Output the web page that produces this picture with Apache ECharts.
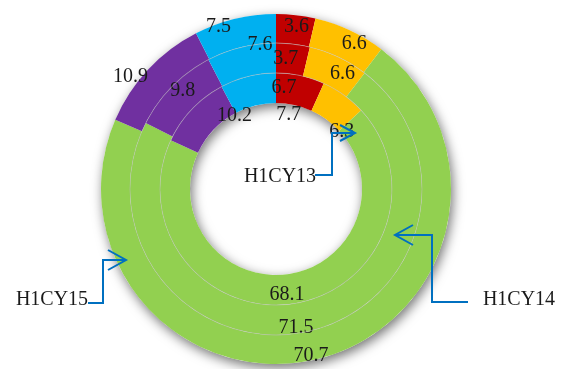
<!DOCTYPE html>
<html>
<head>
<meta charset="utf-8">
<script src="https://cdn.jsdelivr.net/npm/echarts@6/dist/echarts.min.js"></script>
<style>
  html, body { margin: 0; padding: 0; background: #ffffff; }
  #chart { width: 563px; height: 369px; }
</style>
</head>
<body>
<div id="chart"></div>
<script>
// Half-year shares, one ring per period (inner = oldest)
const periods = ['H1CY13', 'H1CY14', 'H1CY15'];
const segments = ['Segment A', 'Segment B', 'Segment C', 'Segment D', 'Segment E'];
const h1cy13 = [6.7, 6.3, 68.1, 10.2, 7.7];
const h1cy14 = [3.7, 6.6, 71.5, 9.8, 7.6];
const h1cy15 = [3.6, 6.6, 70.7, 10.9, 7.5];
const ringValues = [h1cy13, h1cy14, h1cy15];

// Styling and layout
const palette = ['#C00000', '#FFC000', '#92D050', '#7030A0', '#00B0F0'];
const center = [276, 189];
const ringRadii = [[86, 116], [116, 146], [146, 175]];
const textFont = '"Liberation Serif", "Times New Roman", serif';
const textColor = '#1a1a1a';
// Hand-placed value label nudges (dx, dy) per ring and segment
const labelNudges = [
  [[-14, 0], [5, 27], [-5, 3], [34, -2], [38, 27]],
  [[-6, 3], [9, 6], [-10, 8], [2, -4], [16, -14]],
  [[2, 0], [9, 3], [-7, 9], [-26, -1], [-19, -3]]
];
// Callout arrows: label position, connector path, arrowhead
const callouts = [
  { text: periods[0], at: [280, 177], path: [[315, 175], [332, 175], [332, 133], [355, 133]], head: [[340, 125], [355, 133], [340, 141]] },
  { text: periods[1], at: [519, 300], path: [[468, 302], [432, 302], [432, 235], [395, 235]], head: [[413, 225], [395, 235], [413, 245]] },
  { text: periods[2], at: [52, 300], path: [[88, 303], [103, 303], [103, 260], [126, 260]], head: [[108, 250], [126, 260], [108, 270]] }
];

const chart = echarts.init(document.getElementById('chart'), null, { renderer: 'canvas' });

const series = [];

// Backdrop ring that casts the soft drop shadow
series.push({
  type: 'pie',
  silent: true,
  z: 1,
  center: center,
  radius: [ringRadii[0][0], ringRadii[2][1]],
  startAngle: 90,
  label: { show: false },
  labelLine: { show: false },
  emphasis: { disabled: true },
  itemStyle: {
    color: '#ffffff',
    shadowBlur: 12,
    shadowOffsetX: 2,
    shadowOffsetY: 4,
    shadowColor: 'rgba(0,0,0,0.55)'
  },
  data: [{ value: 1, name: 'backdrop' }]
});

// The three data rings
ringValues.forEach(function (vals, ri) {
  series.push({
    type: 'pie',
    name: periods[ri],
    z: 2,
    center: center,
    radius: ringRadii[ri],
    startAngle: 90,
    clockwise: true,
    avoidLabelOverlap: false,
    emphasis: { disabled: true },
    itemStyle: { borderWidth: 0 },
    label: {
      show: true,
      position: 'inside',
      formatter: function (p) { return String(p.value); },
      fontFamily: textFont,
      fontSize: 20,
      color: textColor
    },
    labelLine: { show: false },
    labelLayout: function (params) {
      const n = labelNudges[ri][params.dataIndex];
      return { dx: n[0], dy: n[1] };
    },
    data: vals.map(function (v, i) {
      return { value: v, name: segments[i], itemStyle: { color: palette[i] } };
    })
  });
});

// Faint circles between rings
[ringRadii[0][1], ringRadii[1][1]].forEach(function (r) {
  series.push({
    type: 'pie',
    silent: true,
    z: 3,
    center: center,
    radius: [r - 0.4, r + 0.4],
    startAngle: 90,
    label: { show: false },
    labelLine: { show: false },
    emphasis: { disabled: true },
    itemStyle: { color: 'rgba(190,190,190,0.6)' },
    data: [{ value: 1, name: 'divider' }]
  });
});

const graphic = [];
callouts.forEach(function (c) {
  graphic.push({
    type: 'polyline',
    z: 100,
    shape: { points: c.path },
    style: { stroke: '#0070C0', lineWidth: 2, fill: null }
  });
  graphic.push({
    type: 'polyline',
    z: 100,
    shape: { points: c.head },
    style: { stroke: '#0070C0', lineWidth: 2, fill: null }
  });
  graphic.push({
    type: 'text',
    z: 99,
    x: c.at[0],
    y: c.at[1],
    style: {
      text: c.text,
      font: '20px ' + textFont,
      fill: textColor,
      align: 'center',
      verticalAlign: 'middle'
    }
  });
});

chart.setOption({
  animation: false,
  backgroundColor: '#ffffff',
  series: series,
  graphic: graphic
});
</script>
</body>
</html>
